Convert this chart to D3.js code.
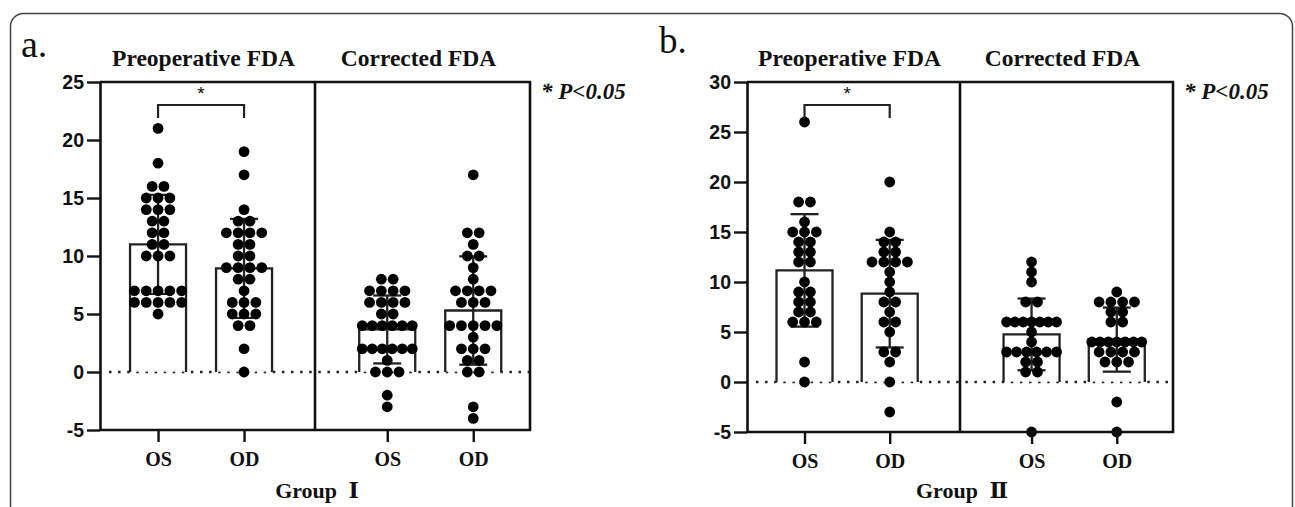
<!DOCTYPE html>
<html>
<head>
<meta charset="utf-8">
<script src="https://cdn.jsdelivr.net/npm/d3@7"></script>
<style>
  body { margin: 0; background: #fff; }
  svg { display: block; }
  .serif { font-family: "Liberation Serif", "Times New Roman", serif; font-weight: bold; fill: #111; }
  .ytick text { font-family: "Liberation Sans", Arial, sans-serif; font-weight: bold; font-size: 19.5px; fill: #111; }
</style>
</head>
<body>
<svg id="chart" width="1295" height="507"></svg>
<script>
// categories and labels
var eyes = ["OS", "OD"];
var phases = ["Preoperative FDA", "Corrected FDA"];
var groupWord = "Group";
var groupNums = ["\u2160", "\u2161"];
var panelLetters = ["a.", "b."];
var ticksA = [-5, 0, 5, 10, 15, 20, 25];
var ticksB = [-5, 0, 5, 10, 15, 20, 25, 30];
var sigNote = "* P<0.05";

// Group I, FDA values per eye
var g1PreOS = [21, 18, 16, 16, 15, 15, 15, 14, 14, 14, 13, 13, 12, 12, 11, 11, 10, 10, 10, 7, 7, 7, 7, 7, 6, 6, 6, 6, 6, 5];
var g1PreOD = [19, 17, 14, 13, 13, 12, 12, 12, 12, 11, 11, 10, 10, 9, 9, 9, 9, 8, 8, 7, 6, 6, 6, 5, 5, 5, 4, 4, 2, 0];
var g1CorOS = [8, 8, 7, 7, 7, 7, 6, 6, 6, 6, 5, 5, 4, 4, 4, 4, 4, 4, 2, 2, 2, 2, 2, 2, 1, 0, 0, 0, -2, -3];
var g1CorOD = [17, 12, 12, 11, 10, 10, 9, 8, 7, 7, 7, 7, 6, 6, 6, 4, 4, 4, 4, 4, 3, 2, 2, 2, 1, 1, 0, 0, -3, -4];

// Group II
var g2PreOS = [26, 18, 18, 16, 15, 15, 15, 14, 14, 13, 13, 12, 12, 10, 9, 9, 8, 8, 7, 7, 6, 6, 6, 2, 0];
var g2PreOD = [20, 15, 14, 14, 13, 13, 12, 12, 12, 12, 11, 10, 9, 8, 8, 7, 6, 6, 5, 3, 3, 2, 0, -3];
var g2CorOS = [12, 11, 10, 8, 8, 6, 6, 6, 6, 6, 6, 6, 5, 4, 3, 3, 3, 3, 3, 3, 2, 2, 1, 1, -5];
var g2CorOD = [9, 8, 8, 8, 8, 7, 7, 6, 6, 4, 4, 4, 4, 4, 4, 4, 3, 3, 3, 3, 2, 2, 2, -2, -5];

var panels = [
    {x0: 100, x1: 530, yTop: 82, yBot: 430, ticks: ticksA, letterX: 21, letterY: 57, letterSize: 38,
     sets: [[g1PreOS, g1PreOD], [g1CorOS, g1CorOD]]},
    {x0: 747, x1: 1173, yTop: 82, yBot: 432, ticks: ticksB, letterX: 659, letterY: 53, letterSize: 37,
     sets: [[g2PreOS, g2PreOD], [g2CorOS, g2CorOD]]}
];

var svg = d3.select("#chart");
var ink = "#111";

// outer rounded border of the figure
svg.append("rect")
    .attr("x", 10.5).attr("y", 13.5)
    .attr("width", 1282).attr("height", 540)
    .attr("rx", 13)
    .attr("fill", "none").attr("stroke", "#444").attr("stroke-width", 1.5);

panels.forEach(function(p, pi) {
    var g = svg.append("g");
    var xm = (p.x0 + p.x1) / 2;

    var y = d3.scaleLinear()
        .domain([p.ticks[0], p.ticks[p.ticks.length - 1]])
        .range([p.yBot, p.yTop]);

    var xs = [
        d3.scalePoint().domain(eyes).range([p.x0, xm]).padding(0.75).align(0.45),
        d3.scalePoint().domain(eyes).range([xm, p.x1]).padding(0.75).align(0.56)
    ];

    // dotted zero line
    g.append("line")
        .attr("x1", p.x0 + 9).attr("x2", p.x1)
        .attr("y1", y(0)).attr("y2", y(0))
        .attr("stroke", "#222").attr("stroke-width", 2.4)
        .attr("stroke-dasharray", "2.5 6.6");

    p.sets.forEach(function(pair, j) {
        var x = xs[j];
        var sub = g.append("g");

        pair.forEach(function(vals, k) {
            var cx = x(eyes[k]);
            var m = d3.mean(vals), sd = d3.deviation(vals);
            var bw = 56;

            // bar (open at the bottom, like the original)
            sub.append("rect")
                .attr("x", cx - bw / 2).attr("y", y(m))
                .attr("width", bw).attr("height", y(0) - y(m))
                .attr("fill", "#fff").attr("fill-opacity", 0.65);
            sub.append("path")
                .attr("d", "M" + (cx - bw / 2) + "," + y(0) + "V" + y(m) + "H" + (cx + bw / 2) + "V" + y(0))
                .attr("fill", "none").attr("stroke", "#222").attr("stroke-width", 2.3);

            // mean +/- SD
            var eb = sub.append("g").attr("stroke", "#222").attr("stroke-width", 2.3);
            eb.append("line").attr("x1", cx).attr("x2", cx).attr("y1", y(m - sd)).attr("y2", y(m + sd));
            [m - sd, m + sd].forEach(function(v) {
                eb.append("line").attr("x1", cx - 14).attr("x2", cx + 14).attr("y1", y(v)).attr("y2", y(v));
            });

            // scatter: dots of equal value laid side by side
            var rows = d3.groups(vals, function(d) { return d; });
            rows.forEach(function(r) {
                var n = r[1].length;
                var step = n > 1 ? Math.min(11.8, 50 / (n - 1)) : 0;
                r[1].forEach(function(v, i) {
                    sub.append("circle")
                        .attr("cx", cx + (i - (n - 1) / 2) * step)
                        .attr("cy", y(v))
                        .attr("r", 5.4)
                        .attr("fill", "#000");
                });
            });
        });

        // x ticks and OS / OD labels
        var xa = sub.append("g")
            .attr("transform", "translate(0," + p.yBot + ")")
            .call(d3.axisBottom(x).tickSize(12).tickPadding(10));
        xa.select(".domain").remove();
        xa.selectAll("line").attr("stroke", ink).attr("stroke-width", 2.4);
        xa.selectAll("text")
            .attr("class", "serif")
            .style("font-size", "20px")
            .attr("fill", ink);

        // sub-panel title
        var tc = j === 0 ? (p.x0 + xm) / 2 : (xm + p.x1) / 2;
        g.append("text")
            .attr("class", "serif")
            .attr("x", tc - 4).attr("y", 66)
            .attr("text-anchor", "middle")
            .style("font-size", "23.5px")
            .text(phases[j]);
    });

    // frame: top, right, divider, bottom
    var fr = g.append("g").attr("stroke", ink).attr("stroke-width", 2.6).attr("fill", "none");
    fr.append("path").attr("d", "M" + p.x0 + "," + p.yTop + "H" + p.x1 + "V" + p.yBot + "H" + p.x0);
    fr.append("line").attr("x1", xm).attr("x2", xm).attr("y1", p.yTop).attr("y2", p.yBot);

    // y axis
    var ya = g.append("g")
        .attr("class", "ytick")
        .attr("transform", "translate(" + p.x0 + ",0)")
        .call(d3.axisLeft(y).tickValues(p.ticks).tickFormat(function(d) { return String(d); })
            .tickSize(13).tickSizeOuter(0).tickPadding(3));
    ya.select(".domain").attr("stroke", ink).attr("stroke-width", 2.6);
    ya.selectAll("line").attr("stroke", ink).attr("stroke-width", 2.4);

    // significance bracket on the preoperative pair
    var xb = xs[0];
    var bTop = p.yTop + 23, bLeg = p.yTop + 36;
    g.append("path")
        .attr("d", "M" + xb("OS") + "," + bLeg + "V" + bTop + "H" + xb("OD") + "V" + bLeg)
        .attr("fill", "none").attr("stroke", "#222").attr("stroke-width", 2.2);
    g.append("text")
        .attr("x", (xb("OS") + xb("OD")) / 2).attr("y", p.yTop + 18)
        .attr("text-anchor", "middle")
        .style("font-family", "Liberation Sans, Arial, sans-serif")
        .style("font-size", "19px").attr("fill", ink)
        .text("*");

    // p-value note
    g.append("text")
        .attr("class", "serif")
        .attr("x", p.x1 + 11).attr("y", 99)
        .style("font-size", "23px").style("font-style", "italic")
        .text(sigNote);

    // panel letter
    g.append("text")
        .attr("x", p.letterX).attr("y", p.letterY)
        .style("font-family", "Liberation Serif, Times New Roman, serif")
        .style("font-size", p.letterSize + "px").attr("fill", ink)
        .text(panelLetters[pi]);

    // group caption
    var gc = g.append("text")
        .attr("class", "serif")
        .attr("x", xm + 2).attr("y", 498)
        .attr("text-anchor", "middle")
        .style("font-size", "22px");
    gc.append("tspan").text(groupWord + " ");
    gc.append("tspan")
        .attr("dx", 6)
        .style("font-family", "DejaVu Serif, serif")
        .style("font-weight", "bold")
        .text(groupNums[pi]);
});
</script>
</body>
</html>
